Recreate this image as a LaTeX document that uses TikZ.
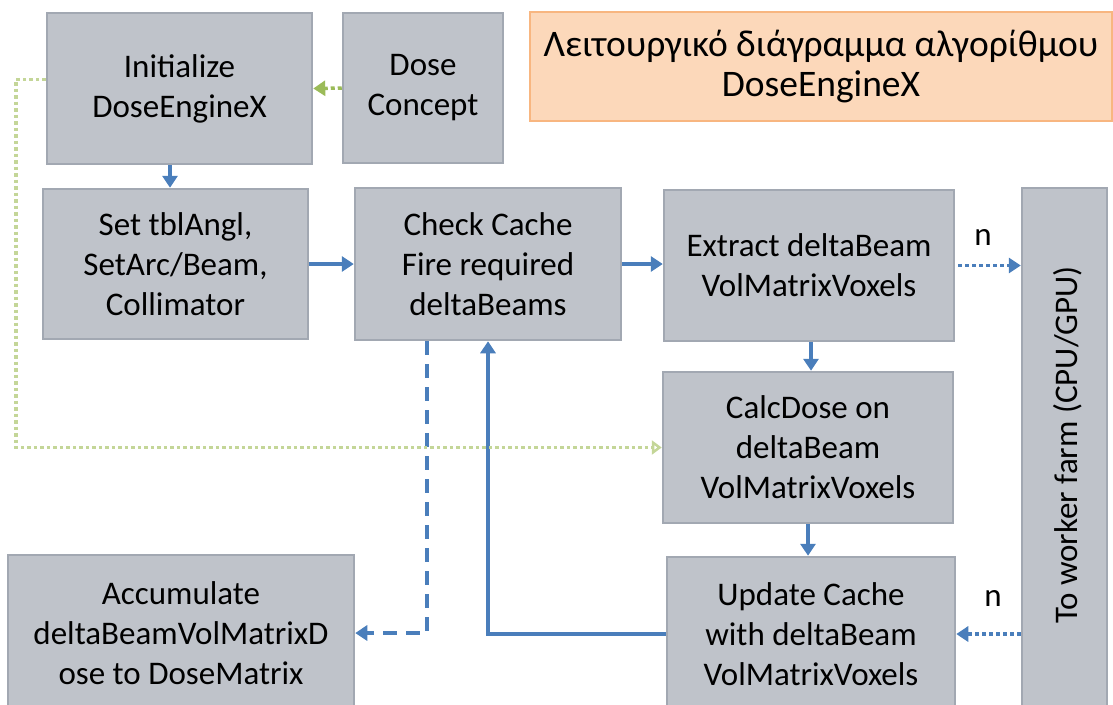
\documentclass[tikz,border=0pt]{standalone}
\usepackage{fontspec}
\setmainfont{Carlito}
\usetikzlibrary{arrows.meta}

\definecolor{boxfill}{RGB}{191,195,202}
\definecolor{boxline}{RGB}{162,168,178}
\definecolor{titlefill}{RGB}{252,216,186}
\definecolor{titleline}{RGB}{248,182,128}
\definecolor{flowblue}{RGB}{74,126,187}
\definecolor{leafgreen}{RGB}{155,187,89}
\definecolor{palegreen}{RGB}{196,214,152}

\begin{document}
\begin{tikzpicture}[
    x=1pt, y=-1pt,
    block/.style={rectangle, draw=boxline, fill=boxfill, line width=2.5pt, align=center,
                  inner sep=0pt, font=\fontsize{33}{40}\selectfont},
    flow/.style={draw=flowblue, line width=3.5pt, -{Triangle[length=12pt,width=15pt]}},
    dotflow/.style={flow, dash pattern=on 4pt off 3pt},
    dashflow/.style={flow, dash pattern=on 14pt off 9pt},
    greenflow/.style={draw=leafgreen, line width=3.5pt, dash pattern=on 4pt off 3pt,
                      -{Triangle[length=12pt,width=15pt]}},
    loopflow/.style={draw=palegreen, line width=3.5pt, dash pattern=on 3.5pt off 3pt,
                     -{Triangle[open,length=10pt,width=14pt]}},
    tag/.style={font=\fontsize{33}{40}\selectfont, inner sep=0pt}
]
\useasboundingbox (0,0) rectangle (1113,704);

% Blocks
\node[block, minimum width=265pt, minimum height=151pt] (init) at (179.5,88.5) {Initialize\\DoseEngineX};
\node[block, minimum width=160pt, minimum height=150pt] (concept) at (423,88) {Dose\\Concept};
\node[rectangle, draw=titleline, fill=titlefill, line width=2.5pt, align=center,
      minimum width=582pt, minimum height=109pt, inner sep=0pt,
      font=\fontsize{37.5}{40}\selectfont] (title) at (821,66.5)
      {Λειτουργικό διάγραμμα αλγορίθμου\\DoseEngineX};
\node[block, minimum width=265pt, minimum height=150pt] (set) at (175.5,264) {Set tblAngl,\\SetArc/Beam,\\Collimator};
\node[block, minimum width=266pt, minimum height=152pt] (check) at (488,264) {Check Cache\\Fire required\\deltaBeams};
\node[block, minimum width=290pt, minimum height=151pt] (extract) at (809,265.5) {Extract deltaBeam\\VolMatrixVoxels};
\node[block, minimum width=290pt, minimum height=151pt] (calc) at (808,447.5) {CalcDose on\\deltaBeam\\VolMatrixVoxels};
\node[block, minimum width=288pt, minimum height=154pt] (update) at (811,634) {Update Cache\\with deltaBeam\\VolMatrixVoxels};
\node[block, minimum width=346pt, minimum height=156pt] (accum) at (181,633) {Accumulate\\deltaBeamVolMatrixD\\ose to DoseMatrix};
\node[block, minimum width=85pt, minimum height=534pt] (worker) at (1064.5,455) {};
\node[tag, rotate=90] (workertext) at (1068,445) {To worker farm (CPU/GPU)};

% Labels on the farm links
\node[tag] (nout) at (983,237) {n};
\node[tag] (nin) at (993,598) {n};

% Connectors
\draw[greenflow] (concept.west) -- (init.east);
\draw[flow] (170,0 |- init.south) -- (170,0 |- set.north);
\draw[flow] (set.east) -- (set.east -| check.west);
\draw[flow] (check.east) -- (check.east -| extract.west);
\draw[dotflow, shorten <=3pt] (extract.east) -- (extract.east -| worker.west);
\draw[flow] (811,0 |- extract.south) -- (811,0 |- calc.north);
\draw[flow] (808,0 |- calc.south) -- (808,0 |- update.north);
\draw[dotflow] (worker.west |- update.east) -- (update.east);
\draw[flow] (update.west) -| (check.south);
\draw[dashflow] (427,0 |- check.south) |- (accum.east);
\draw[loopflow] ([yshift=9pt]init.west) -- ++(-30,0) |- (calc.west);

\end{tikzpicture}
\end{document}
